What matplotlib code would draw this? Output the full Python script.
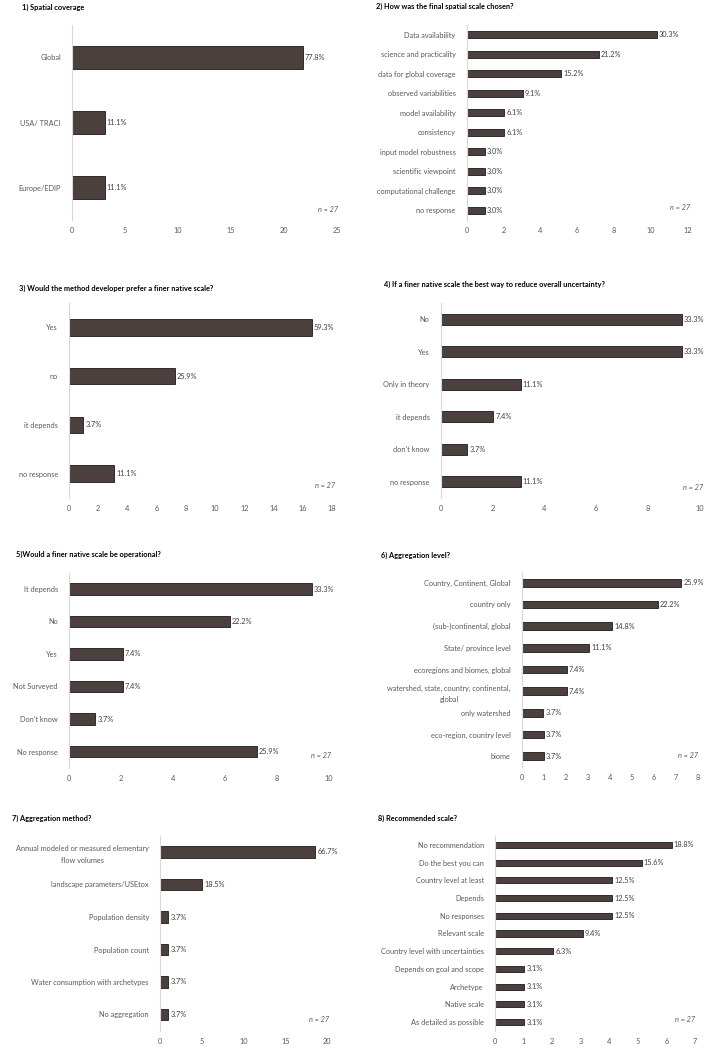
import matplotlib
matplotlib.use("Agg")
import matplotlib.pyplot as plt

plt.rcParams['font.family'] = ['Lato', 'DejaVu Sans']

# ---- data (bar lengths = respondent counts) ----
q1_cats = ["Global", "USA/ TRACI", "Europe/EDIP"]
q1_vals = [21.8, 3.1, 3.1]
q1_pct = ["77.8%", "11.1%", "11.1%"]

q2_cats = ["Data availability", "science and practicality", "data for global coverage",
           "observed variabilities", "model availability", "consistency",
           "input model robustness", "scientific viewpoint", "computational challenge",
           "no response"]
q2_vals = [10.35, 7.2, 5.15, 3.05, 2.04, 2.04, 1.0, 1.0, 1.0, 1.0]
q2_pct = ["30.3%", "21.2%", "15.2%", "9.1%", "6.1%", "6.1%", "3.0%", "3.0%", "3.0%", "3.0%"]

q3_cats = ["Yes", "no", "it depends", "no response"]
q3_vals = [16.6, 7.24, 0.98, 3.1]
q3_pct = ["59.3%", "25.9%", "3.7%", "11.1%"]

q4_cats = ["No", "Yes", "Only in theory", "it depends", "don't know", "no response"]
q4_vals = [9.32, 9.32, 3.1, 2.04, 1.03, 3.1]
q4_pct = ["33.3%", "33.3%", "11.1%", "7.4%", "3.7%", "11.1%"]

q5_cats = ["It depends", "No", "Yes", "Not Surveyed", "Don't know", "No response"]
q5_vals = [9.33, 6.19, 2.06, 2.06, 1.01, 7.23]
q5_pct = ["33.3%", "22.2%", "7.4%", "7.4%", "3.7%", "25.9%"]

q6_cats = ["Country, Continent, Global", "country only", "(sub-)continental, global",
           "State/ province level", "ecoregions and biomes, global",
           "watershed, state, country, continental,\nglobal", "only watershed",
           "eco-region, country level", "biome"]
q6_vals = [7.26, 6.18, 4.1, 3.08, 2.05, 2.05, 0.98, 1.0, 1.0]
q6_pct = ["25.9%", "22.2%", "14.8%", "11.1%", "7.4%", "7.4%", "3.7%", "3.7%", "3.7%"]

q7_cats = ["Annual modeled or measured elementary\nflow volumes", "landscape parameters/USEtox",
           "Population density", "Population count", "Water consumption with archetypes",
           "No aggregation"]
q7_vals = [18.6, 5.04, 1.0, 1.0, 1.0, 1.0]
q7_pct = ["66.7%", "18.5%", "3.7%", "3.7%", "3.7%", "3.7%"]

q8_cats = ["No recommendation", "Do the best you can", "Country level at least", "Depends",
           "No responses", "Relevant scale", "Country level with uncertainties",
           "Depends on goal and scope", "Archetype", "Native scale", "As detailed as possible"]
q8_vals = [6.18, 5.13, 4.1, 4.1, 4.1, 3.07, 2.04, 1.02, 1.02, 1.02, 1.02]
q8_pct = ["18.8%", "15.6%", "12.5%", "12.5%", "12.5%", "9.4%", "6.3%", "3.1%", "3.1%", "3.1%", "3.1%"]

titles = ["1) Spatial coverage", "2) How was the final spatial scale chosen?",
          "3) Would the method developer prefer a finer native scale?",
          "4) If a finer native scale the best way to reduce overall uncertainty?",
          "5)Would a finer native scale be operational?", "6) Aggregation level?",
          "7) Aggregation method?", "8) Recommended scale?"]

W, H = 711, 1050
BAR = "#4b403d"
TXT = "#595959"
FS = 5.3

# layout in pixels: x of 0, x of xmax, xmax, tick step, axis top, axis bottom,
# title (x, y), n-label (x, y)
layout = [
    (72, 336.5, 25, 5, 25, 220, (22, 7), (338, 209)),
    (466.7, 687.3, 12, 2, 25, 220, (376, 6), (690, 208)),
    (69, 332, 18, 2, 303, 498, (19, 288), (335, 486)),
    (440.7, 699.3, 10, 2, 303, 498, (384, 284), (703, 487)),
    (69, 329, 10, 2, 572.75, 767.75, (16, 554), (331, 756)),
    (521.7, 697.7, 8, 1, 572, 767, (381, 555), (698, 756)),
    (160, 327, 20, 5, 835.75, 1030.75, (12, 818), (329, 1019)),
    (495, 695, 7, 1, 836, 1031, (378, 818), (695, 1019)),
]
panels = [(q1_cats, q1_vals, q1_pct), (q2_cats, q2_vals, q2_pct),
          (q3_cats, q3_vals, q3_pct), (q4_cats, q4_vals, q4_pct),
          (q5_cats, q5_vals, q5_pct), (q6_cats, q6_vals, q6_pct),
          (q7_cats, q7_vals, q7_pct), (q8_cats, q8_vals, q8_pct)]

fig = plt.figure(figsize=(W / 100, H / 100), dpi=100)

for (cats, vals, pcts), title, lay in zip(panels, titles, layout):
    x0, x1, xmax, step, ytop, ybot, tpos, npos = lay
    ax = fig.add_axes([x0 / W, 1 - ybot / H, (x1 - x0) / W, (ybot - ytop) / H])
    ypos = list(range(len(cats)))
    ax.barh(ypos, vals, height=0.34, color=BAR, edgecolor="#1e1a19", linewidth=0.6)
    for y, v, p in zip(ypos, vals, pcts):
        ax.annotate(p, (v, y), xytext=(1.5, 0), textcoords="offset points",
                    va="center", ha="left", fontsize=FS, color="#404040")
    ax.set_xlim(0, xmax)
    ax.set_ylim(len(cats) - 0.5, -0.5)
    ax.set_yticks(ypos)
    ax.set_yticklabels(cats, fontsize=FS, color=TXT, multialignment="center",
                       linespacing=1.7)
    ax.set_xticks(range(0, xmax + 1, step))
    ax.tick_params(axis="x", labelsize=FS, colors=TXT, length=0, pad=5)
    ax.tick_params(axis="y", length=0, pad=8)
    for s in ["top", "right", "bottom"]:
        ax.spines[s].set_visible(False)
    ax.spines["left"].set_color("#d9d9d9")
    ax.spines["left"].set_linewidth(0.8)
    fig.text(tpos[0] / W, 1 - tpos[1] / H, title, fontsize=FS, fontweight="bold",
             va="center", ha="left", color="black")
    fig.text(npos[0] / W, 1 - npos[1] / H, "n = 27", fontsize=FS, style="italic",
             va="center", ha="right", color=TXT)

fig.savefig("out.png", dpi=100)
